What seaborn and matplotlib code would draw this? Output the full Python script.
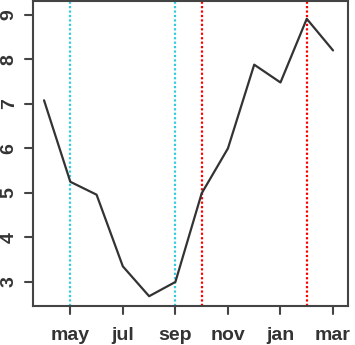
import matplotlib
matplotlib.use("Agg")
import matplotlib.pyplot as plt
from matplotlib.lines import Line2D
import seaborn as sns
import pandas as pd

months = ["apr", "may", "jun", "jul", "aug", "sep", "oct", "nov", "dec", "jan", "feb", "mar"]
values = [7.08, 5.25, 4.96, 3.35, 2.68, 3.0, 4.99, 6.0, 7.88, 7.48, 8.91, 8.2]
cyan_months = ["may", "sep"]
red_months = ["oct", "feb"]
tick_months = ["may", "jul", "sep", "nov", "jan", "mar"]
y_ticks = [3, 4, 5, 6, 7, 8, 9]

sns.set_style("ticks")
plt.rcParams["font.family"] = ["Liberation Sans", "DejaVu Sans"]

df = pd.DataFrame({"pos": range(1, len(months) + 1), "value": values})
pos = {m: i + 1 for i, m in enumerate(months)}

W, H = 355, 345
L, R, B, T = 33, 348, 306, 1
fig = plt.figure(figsize=(W / 100, H / 100), dpi=100)
ax = fig.add_axes([L / W, (H - B) / H, (R - L) / W, (B - T) / H])

for m in cyan_months:
    ax.axvline(pos[m], color="#33CCDD", linestyle=(0, (1, 1)), linewidth=1.6, zorder=1)
for m in red_months:
    ax.axvline(pos[m], color="#FF0000", linestyle=(0, (1, 1)), linewidth=1.6, zorder=1)

sns.lineplot(data=df, x="pos", y="value", ax=ax, color="#333333", linewidth=1.6, zorder=3)

ax.set_xlim(0.58, 12.57)
ax.set_ylim(2.46, 9.31)
ax.set_xticks([pos[m] for m in tick_months])
ax.set_xticklabels(tick_months)
ax.set_yticks(y_ticks)
ax.set_yticklabels([str(v) for v in y_ticks], rotation=90, va="center")
ax.set_xlabel("")
ax.set_ylabel("")

for s in ax.spines.values():
    s.set_visible(True)
    s.set_color("#444444")
    s.set_linewidth(1.5)

ax.tick_params(axis="both", which="major", length=0, labelsize=14, labelcolor="#333333")
ax.tick_params(axis="x", pad=15)
ax.tick_params(axis="y", pad=11)
for lab in ax.get_xticklabels() + ax.get_yticklabels():
    lab.set_fontweight("bold")

# outward tick marks as figure-level artists (figure fraction coordinates)
tick_px = 8
to_fig = ax.transData + fig.transFigure.inverted()
ylo = ax.get_ylim()[0]
xlo = ax.get_xlim()[0]
for xv in ax.get_xticks():
    fx, fy = to_fig.transform((xv, ylo))
    fig.add_artist(Line2D([fx, fx], [fy, fy - tick_px / H], transform=fig.transFigure,
                          color="#444444", linewidth=1.5, zorder=10))
for yv in ax.get_yticks():
    fx, fy = to_fig.transform((xlo, yv))
    fig.add_artist(Line2D([fx, fx - tick_px / W], [fy, fy], transform=fig.transFigure,
                          color="#444444", linewidth=1.5, zorder=10))

fig.savefig("out.png", dpi=100)
